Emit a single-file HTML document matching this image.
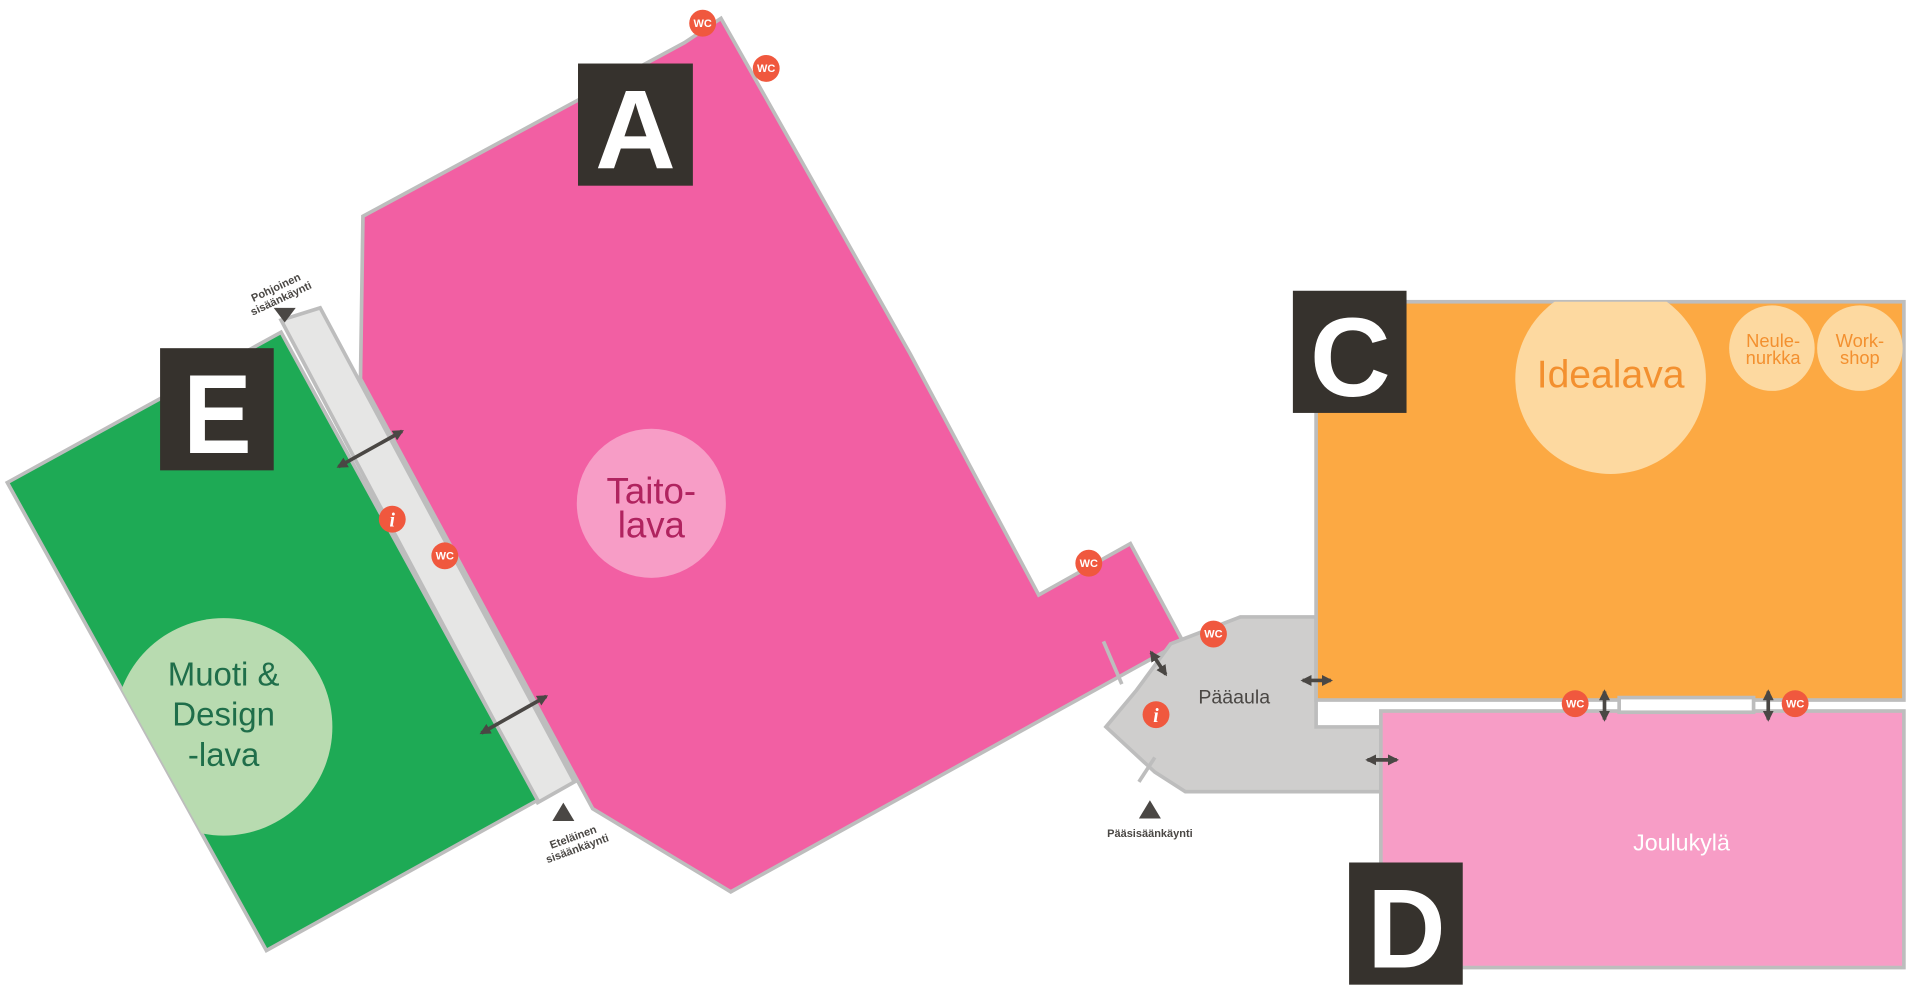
<!DOCTYPE html>
<html><head><meta charset="utf-8"><style>
html,body{margin:0;padding:0;background:#fff;}
svg{display:block;}
text{font-family:"Liberation Sans","DejaVu Sans",sans-serif;}
</style></head><body>
<svg width="1910" height="992" viewBox="0 0 1563 812" preserveAspectRatio="none" xmlns="http://www.w3.org/2000/svg">
<defs>
<clipPath id="gclip"><polygon points="6,395 230,272 440,655 218,778"/></clipPath>
<clipPath id="cclip"><rect x="1077" y="247" width="481" height="326"/></clipPath>
<marker id="ah" viewBox="0 0 10 10" refX="8" refY="5" markerWidth="3" markerHeight="3" orient="auto-start-reverse"><path d="M0,0 L10,5 L0,10 z" fill="#4a4744"/></marker>
</defs>
<polygon points="297,177 560,35 590,15 745,290 850,487 925,445 968,525 598,730 485,662 295,310" fill="#f25fa3" stroke="#bdbdbd" stroke-width="3"/>
<circle cx="533" cy="412" r="61" fill="#f79dc6"/>
<text x="533" y="412" font-size="30" fill="#b0235f" text-anchor="middle">Taito-</text>
<text x="533" y="440" font-size="30" fill="#b0235f" text-anchor="middle">lava</text>
<polygon points="230,262 262,252 470,640 440,657" fill="#e6e6e5" stroke="#bdbdbd" stroke-width="3"/>
<polygon points="6,395 230,272 440,655 218,778" fill="#1eaa55" stroke="#bdbdbd" stroke-width="3"/>
<circle cx="183" cy="595" r="89" fill="#b8dbb0" clip-path="url(#gclip)"/>
<text x="183" y="561" font-size="27" fill="#1f6e4a" text-anchor="middle">Muoti &amp;</text>
<text x="183" y="594" font-size="27" fill="#1f6e4a" text-anchor="middle">Design</text>
<text x="183" y="627" font-size="27" fill="#1f6e4a" text-anchor="middle">-lava</text>
<polygon points="958,527 1015,505 1077,505 1077,595 1130,595 1130,648 970,648 945,632 905,595 930,565" fill="#cfcecd" stroke="#bdbdbd" stroke-width="3"/>
<text x="1010" y="576" font-size="16" fill="#4a4744" text-anchor="middle">Pääaula</text>
<line x1="903" y1="525" x2="918" y2="560" stroke="#bdbdbd" stroke-width="3"/>
<line x1="945" y1="620" x2="932" y2="640" stroke="#bdbdbd" stroke-width="3"/>
<rect x="1077" y="247" width="481" height="326" fill="#fca943" stroke="#bdbdbd" stroke-width="3"/>
<circle cx="1318" cy="310" r="78" fill="#fdd9a0" clip-path="url(#cclip)"/>
<circle cx="1450" cy="285" r="35" fill="#fdd9a0"/>
<circle cx="1522" cy="285" r="35" fill="#fdd9a0"/>
<text x="1318" y="317" font-size="32" fill="#f3902f" text-anchor="middle">Idealava</text>
<text x="1451" y="284" font-size="15" fill="#f3902f" text-anchor="middle">Neule-</text>
<text x="1451" y="298" font-size="15" fill="#f3902f" text-anchor="middle">nurkka</text>
<text x="1522" y="284" font-size="15" fill="#f3902f" text-anchor="middle">Work-</text>
<text x="1522" y="298" font-size="15" fill="#f3902f" text-anchor="middle">shop</text>
<rect x="1130" y="582" width="428" height="210" fill="#f79dc6" stroke="#bdbdbd" stroke-width="3"/>
<rect x="1325" y="571" width="110" height="12" fill="#fff" stroke="#bdbdbd" stroke-width="3"/>
<text x="1376" y="696" font-size="19" fill="#fff" text-anchor="middle">Joulukylä</text>
<rect x="473" y="52" width="94" height="100" fill="#36322d"/>
<text x="520" y="138" font-size="92" font-weight="bold" fill="#fff" text-anchor="middle" textLength="66" lengthAdjust="spacingAndGlyphs">A</text>
<rect x="131" y="285" width="93" height="100" fill="#36322d"/>
<text x="178" y="371" font-size="92" font-weight="bold" fill="#fff" text-anchor="middle" textLength="56" lengthAdjust="spacingAndGlyphs">E</text>
<rect x="1058" y="238" width="93" height="100" fill="#36322d"/>
<text x="1105" y="324" font-size="92" font-weight="bold" fill="#fff" text-anchor="middle" textLength="66" lengthAdjust="spacingAndGlyphs">C</text>
<rect x="1104" y="706" width="93" height="100" fill="#36322d"/>
<text x="1151" y="792" font-size="92" font-weight="bold" fill="#fff" text-anchor="middle" textLength="64" lengthAdjust="spacingAndGlyphs">D</text>
<g stroke="#4a4744" stroke-width="3" marker-start="url(#ah)" marker-end="url(#ah)">
<line x1="277" y1="382" x2="329" y2="353"/>
<line x1="394" y1="600" x2="447" y2="570"/>
<line x1="942" y1="534" x2="954" y2="552"/>
<line x1="1066" y1="557" x2="1089" y2="557"/>
<line x1="1119" y1="622" x2="1143" y2="622"/>
<line x1="1313" y1="566" x2="1313" y2="589"/>
<line x1="1447" y1="566" x2="1447" y2="589"/>
</g>
<polygon points="224,252 242,252 233,264" fill="#4a4744"/>
<polygon points="452,672 470,672 461,657" fill="#4a4744"/>
<polygon points="932,670 950,670 941,655" fill="#4a4744"/>
<text transform="translate(227,238) rotate(-25)" font-size="9" font-weight="bold" fill="#4a4744" text-anchor="middle"><tspan x="0" y="0">Pohjoinen</tspan><tspan x="0" y="10">sisäänkäynti</tspan></text>
<text transform="translate(470,688) rotate(-20)" font-size="9" font-weight="bold" fill="#4a4744" text-anchor="middle"><tspan x="0" y="0">Eteläinen</tspan><tspan x="0" y="10">sisäänkäynti</tspan></text>
<text x="941" y="685" font-size="9" font-weight="bold" fill="#4a4744" text-anchor="middle">Pääsisäänkäynti</text>
<g font-size="9" font-weight="bold" fill="#fff" text-anchor="middle">
<circle cx="575" cy="19" r="11" fill="#f0583e"/><text x="575" y="22">WC</text>
<circle cx="627" cy="56" r="11" fill="#f0583e"/><text x="627" y="59">WC</text>
<circle cx="364" cy="455" r="11" fill="#f0583e"/><text x="364" y="458">WC</text>
<circle cx="891" cy="461" r="11" fill="#f0583e"/><text x="891" y="464">WC</text>
<circle cx="993" cy="519" r="11" fill="#f0583e"/><text x="993" y="522">WC</text>
<circle cx="1289" cy="576" r="11" fill="#f0583e"/><text x="1289" y="579">WC</text>
<circle cx="1469" cy="576" r="11" fill="#f0583e"/><text x="1469" y="579">WC</text>
</g>
<g font-size="16" font-weight="bold" font-style="italic" fill="#fff" text-anchor="middle">
<circle cx="321" cy="425" r="11" fill="#f0583e"/><text x="321" y="431" style="font-family:'Liberation Serif',serif">i</text>
<circle cx="946" cy="585" r="11" fill="#f0583e"/><text x="946" y="591" style="font-family:'Liberation Serif',serif">i</text>
</g>
</svg>
</body></html>
